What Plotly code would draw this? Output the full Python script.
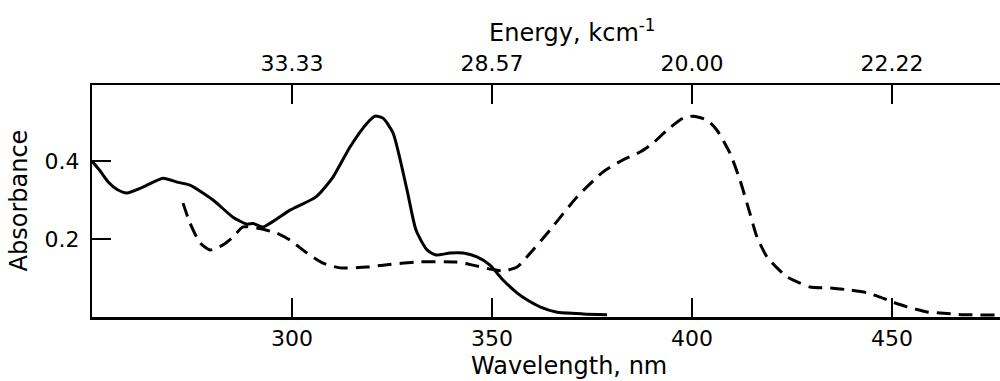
import plotly.graph_objects as go

# Absorption spectra: wavelength (nm) vs absorbance
wl_solid = [250, 252, 254, 256.3, 258.7, 262.75, 267.75, 271.25, 274.5, 280.25, 285.25, 288.75,
            290.25, 292.75, 299.5, 306, 310.25, 314.5, 318.75, 320.75, 322.75, 325.25,
            328.75, 331, 333.75, 336, 339.5, 342.75, 346.25, 349.5, 352.75, 356.25,
            358.75, 362, 366, 372.75, 378.75]
abs_solid = [0.40, 0.375, 0.347, 0.327, 0.318, 0.333, 0.356, 0.346, 0.338, 0.30, 0.256, 0.238,
             0.24, 0.231, 0.274, 0.308, 0.359, 0.436, 0.497, 0.515, 0.51, 0.472,
             0.326, 0.223, 0.172, 0.159, 0.164, 0.164, 0.154, 0.133, 0.095, 0.062,
             0.044, 0.026, 0.013, 0.008, 0.006]

wl_dashed = [272.75, 274.5, 277, 279.5, 282.75, 285.25, 287.75, 291.25, 296.25, 299.5,
             303.75, 307.75, 312, 318.75, 322.75, 331, 341, 345.25, 349.5, 352.75,
             356.25, 360.25, 364.5, 371.25, 377.75, 382.75, 387, 390.25, 393.75,
             397.75, 400.25, 403.75, 406.25, 409.5, 412, 414.5, 416.25, 418.75,
             421.25, 423.75, 427, 429.5, 435.25, 439.5, 443.75, 447, 450.25, 453.75,
             458.75, 462, 468, 476]
abs_dashed = [0.292, 0.241, 0.19, 0.172, 0.185, 0.205, 0.231, 0.228, 0.215, 0.197,
              0.164, 0.138, 0.126, 0.128, 0.133, 0.141, 0.141, 0.133, 0.123, 0.118,
              0.128, 0.172, 0.223, 0.308, 0.372, 0.403, 0.423, 0.446, 0.479,
              0.51, 0.515, 0.505, 0.479, 0.42, 0.351, 0.265, 0.205, 0.154,
              0.126, 0.103, 0.087, 0.077, 0.074, 0.069, 0.062, 0.051, 0.038, 0.026,
              0.013, 0.01, 0.006, 0.005]

# Axis ticks
wl_ticks = [300, 350, 400, 450]
energy_labels = ["33.33", "28.57", "20.00", "22.22"]
abs_ticks = [0.2, 0.4]

x_range = [250, 477]
y_range = [0, 0.595]

FONT = "DejaVu Sans"
TICK_SIZE = 22
TITLE_SIZE = 24

fig = go.Figure()
fig.add_trace(go.Scatter(
    x=wl_solid, y=abs_solid, mode="lines",
    line=dict(color="black", width=3, shape="spline", smoothing=0.6),
    showlegend=False,
))
fig.add_trace(go.Scatter(
    x=wl_dashed, y=abs_dashed, mode="lines",
    line=dict(color="black", width=3, shape="spline", smoothing=0.6, dash="14px,8px"),
    showlegend=False,
))
# empty trace that carries the top energy axis
fig.add_trace(go.Scatter(x=x_range, y=[None, None], xaxis="x2", showlegend=False,
                         hoverinfo="skip"))

tick_common = dict(ticks="inside", ticklen=19, tickwidth=2, tickcolor="black",
                   showgrid=False, zeroline=False,
                   tickfont=dict(family=FONT, size=TICK_SIZE, color="black"))

fig.update_layout(
    width=1000, height=381,
    margin=dict(l=92, r=0, t=85, b=64),
    paper_bgcolor="white", plot_bgcolor="white",
    font=dict(family=FONT, size=TICK_SIZE, color="black"),
    xaxis=dict(
        range=x_range, tickmode="array", tickvals=wl_ticks,
        showline=True, linecolor="black", linewidth=3,
        ticklabelstandoff=0, **tick_common,
    ),
    xaxis2=dict(
        range=x_range, overlaying="x", side="top", anchor="y",
        tickmode="array", tickvals=wl_ticks, ticktext=energy_labels,
        showline=True, linecolor="black", linewidth=2,
        ticklabelstandoff=3, **tick_common,
    ),
    yaxis=dict(
        range=y_range, tickmode="array", tickvals=abs_ticks,
        showline=True, linecolor="black", linewidth=2,
        ticklabelstandoff=6, **tick_common,
    ),
    yaxis2=dict(
        range=y_range, overlaying="y", side="right", anchor="x",
        tickmode="array", tickvals=abs_ticks, showticklabels=False,
        ticks="inside", ticklen=10, tickwidth=2, tickcolor="black",
        showline=False, showgrid=False, zeroline=False,
    ),
)

# Axis titles
title_font = dict(family=FONT, size=TITLE_SIZE, color="black")
fig.add_annotation(text="Wavelength, nm", xref="paper", yref="paper",
                   x=0.525, y=-0.212, xanchor="center", yanchor="middle",
                   showarrow=False, font=title_font)
fig.add_annotation(text="Energy, kcm<sup>-1</sup>", xref="paper", yref="paper",
                   x=0.529, y=1.233, xanchor="center", yanchor="middle",
                   showarrow=False, font=title_font)
fig.add_annotation(text="Absorbance", xref="paper", yref="paper",
                   x=-0.080, y=0.504, xanchor="center", yanchor="middle",
                   textangle=-90, showarrow=False, font=title_font)

fig.write_html("out.html")
